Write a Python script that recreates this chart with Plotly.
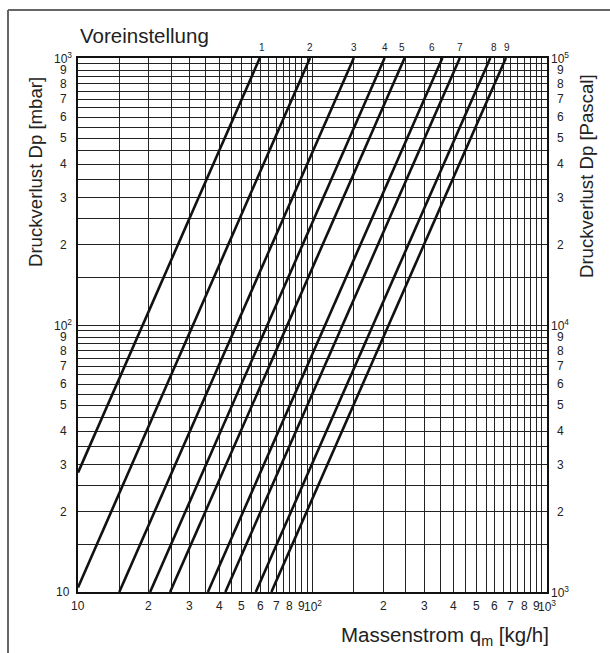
import math
import plotly.graph_objects as go

# ---------------- data ----------------
# Each presetting line (Voreinstellung 1..9): start and end point (q [kg/h], Dp [mbar])
line_names = ["1", "2", "3", "4", "5", "6", "7", "8", "9"]
q_start = [10.0, 10.0, 15.0, 20.3, 24.7, 35.8, 42.5, 57.3, 66.8]
dp_start = [28.0, 10.4, 10.0, 10.0, 10.0, 10.0, 10.0, 10.0, 10.0]
q_end = [59.6, 97.6, 150.0, 203.0, 247.0, 358.0, 425.0, 573.0, 668.0]
dp_end = [1000.0, 1000.0, 1000.0, 1000.0, 1000.0, 1000.0, 1000.0, 1000.0, 1000.0]

# grid values (both axes identical: 10..100 step 5, 100..1000 step 50)
grid_vals = list(range(10, 100, 5)) + list(range(100, 1001, 50))

# tick labels
x_tick_vals = [10, 20, 30, 40, 50, 60, 70, 80, 90, 100, 200, 300, 400, 500, 600, 700, 800, 900, 1000]
x_tick_text = ["10", "2", "3", "4", "5", "6", "7", "8", "9", "10<sup>2</sup>",
               "2", "3", "4", "5", "6", "7", "8", "9", "10<sup>3</sup>"]
y_tick_vals = [10, 20, 30, 40, 50, 60, 70, 80, 90, 100, 200, 300, 400, 500, 600, 700, 800, 900, 1000]
y_tick_text_mbar = ["10", "2", "3", "4", "5", "6", "7", "8", "9", "10<sup>2</sup>",
                    "2", "3", "4", "5", "6", "7", "8", "9", "10<sup>3</sup>"]
y_tick_text_pa = ["10<sup>3</sup>", "2", "3", "4", "5", "6", "7", "8", "9", "10<sup>4</sup>",
                  "2", "3", "4", "5", "6", "7", "8", "9", "10<sup>5</sup>"]

# ---------------- layout geometry ----------------
W, H = 610, 653
ML, MR, MT, MB = 78, 63, 58, 61
PW, PH = W - ML - MR, H - MT - MB


def px(xpix):
    return (xpix - ML) / PW


def py(ypix):
    return (H - MB - ypix) / PH


TICK_FONT = dict(family="Liberation Sans", size=12, color="#222")
TITLE_FONT = dict(family="Liberation Sans", size=18.6, color="#222")
BIG_FONT = dict(family="Liberation Sans", size=20.5, color="#222")

fig = go.Figure()

for name, x0, y0, x1, y1 in zip(line_names, q_start, dp_start, q_end, dp_end):
    fig.add_trace(go.Scatter(
        x=[x0, x1], y=[y0, y1], mode="lines", name=name,
        line=dict(color="#111", width=2.6), showlegend=False, hoverinfo="skip"))

annotations = []
# bottom tick labels
for v, t in zip(x_tick_vals, x_tick_text):
    annotations.append(dict(x=math.log10(v), xref="x", y=0, yref="paper", yshift=-14,
                            text=t, showarrow=False, xanchor="center", yanchor="middle",
                            font=TICK_FONT))
# left and right tick labels
for v, t1, t2 in zip(y_tick_vals, y_tick_text_mbar, y_tick_text_pa):
    annotations.append(dict(x=0, xref="paper", xshift=-15, y=math.log10(v), yref="y",
                            text=t1, showarrow=False, xanchor="center", yanchor="middle",
                            font=TICK_FONT))
    annotations.append(dict(x=1, xref="paper", xshift=13, y=math.log10(v), yref="y",
                            text=t2, showarrow=False, xanchor="center", yanchor="middle",
                            font=TICK_FONT))

# line labels at top
label_shift = [2, 0, 0, 0, -3, -10, 0, 4, 1]
for name, x1, s in zip(line_names, q_end, label_shift):
    annotations.append(dict(x=math.log10(x1), xref="x", xshift=s, y=1, yref="paper", yshift=11,
                            text=name, showarrow=False, xanchor="center", yanchor="middle",
                            font=dict(family="Liberation Sans", size=10, color="#222")))

# titles
annotations.append(dict(x=px(78), y=py(35), xref="paper", yref="paper", text="Voreinstellung",
                        showarrow=False, xanchor="left", yanchor="middle", font=BIG_FONT))
annotations.append(dict(x=px(35), y=py(172), xref="paper", yref="paper",
                        text="Druckverlust Dp [mbar]", textangle=-90,
                        showarrow=False, xanchor="center", yanchor="middle", font=TITLE_FONT))
annotations.append(dict(x=px(586), y=py(176), xref="paper", yref="paper",
                        text="Druckverlust Dp [Pascal]", textangle=-90,
                        showarrow=False, xanchor="center", yanchor="middle", font=TITLE_FONT))
annotations.append(dict(x=px(551), y=py(636), xref="paper", yref="paper",
                        text="Massenstrom q<sub>m</sub> [kg/h]",
                        showarrow=False, xanchor="right", yanchor="middle", font=BIG_FONT))

shapes = [
    dict(type="line", xref="paper", yref="paper", x0=px(8), y0=py(10), x1=px(640), y1=py(10),
         line=dict(color="#666", width=2)),
    dict(type="line", xref="paper", yref="paper", x0=px(8), y0=py(10), x1=px(8), y1=py(700),
         line=dict(color="#666", width=2)),
]

axis_common = dict(type="log", range=[1, 3], tickvals=grid_vals, showticklabels=False,
                   ticks="", showgrid=True, gridcolor="#222", gridwidth=1,
                   showline=True, linecolor="#111", linewidth=1.5, mirror=True,
                   zeroline=False, fixedrange=True)

fig.update_layout(
    width=W, height=H,
    margin=dict(l=ML, r=MR, t=MT, b=MB),
    paper_bgcolor="white", plot_bgcolor="white",
    xaxis=axis_common, yaxis=axis_common,
    annotations=annotations, shapes=shapes, showlegend=False,
)

fig.write_html("out.html")
